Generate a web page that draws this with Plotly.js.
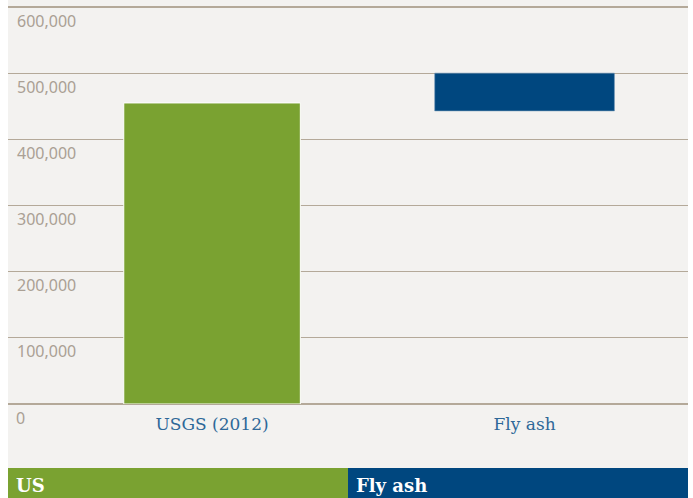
<!DOCTYPE html>
<html>
<head>
<meta charset="utf-8">
<script src="https://cdn.plot.ly/plotly-3.0.1.min.js"></script>
<style>
html,body{margin:0;padding:0;background:#ffffff;}
#chart{width:693px;height:498px;}
</style>
</head>
<body>
<div id="chart"></div>
<script>
// Data
const categories = ["USGS (2012)", "Fly ash"];
const usLow = [0];
const usHigh = [455000];
const flyLow = [443000];
const flyHigh = [500000];
const groupLabels = ["US", "Fly ash"];
const yTickVals = [0, 100000, 200000, 300000, 400000, 500000, 600000];
const yTickText = ["0", "100,000", "200,000", "300,000", "400,000", "500,000", "600,000"];

const green = "#7aa231";
const blue = "#00477f";
const bg = "#f3f2f0";
const grid = "#b4a999";
const tickColor = "#aaa094";

const traces = [
  {
    type: "bar",
    x: [categories[0]],
    base: usLow,
    y: usHigh.map((h, i) => h - usLow[i]),
    width: 0.565,
    marker: {color: green, line: {color: "#ffffff", width: 1}},
    hoverinfo: "skip",
    showlegend: false
  },
  {
    type: "bar",
    x: [categories[1]],
    base: flyLow,
    y: flyHigh.map((h, i) => h - flyLow[i]),
    width: 0.575,
    marker: {color: blue, line: {color: "#6d93b6", width: 0.6}},
    hoverinfo: "skip",
    showlegend: false
  }
];

const H = 404; // plot height px
const layout = {
  width: 693, height: 498,
  margin: {l: 8, r: 5, t: 0, b: 94, pad: 0},
  paper_bgcolor: "#ffffff",
  plot_bgcolor: bg,
  barmode: "overlay",
  showlegend: false,
  xaxis: {
    type: "category",
    categoryarray: categories,
    range: [-0.653, 1.523],
    showgrid: false, zeroline: false, showline: false,
    ticks: "",
    tickfont: {family: "DejaVu Serif", size: 17, color: "#2e6898"},
    ticklabelstandoff: 8,
    fixedrange: true
  },
  yaxis: {
    range: [0, 610579],
    tickvals: yTickVals,
    ticktext: yTickText,
    ticklabelposition: "inside",
    ticklabelshift: 14,
    ticklabelstandoff: 6,
    tickfont: {family: "Noto Sans", size: 16, color: tickColor},
    showgrid: true, gridcolor: grid, gridwidth: 1.3,
    zeroline: true, zerolinecolor: grid, zerolinewidth: 1.3,
    showline: false, ticks: "",
    fixedrange: true
  },
  shapes: [
    {type: "rect", xref: "paper", yref: "paper", x0: 0, x1: 1, y0: -64 / H, y1: 0,
     fillcolor: bg, line: {width: 0}, layer: "below"},
    {type: "rect", xref: "paper", yref: "paper", x0: 0, x1: 0.5, y0: -94 / H, y1: -64 / H,
     fillcolor: green, line: {width: 0}, layer: "below"},
    {type: "rect", xref: "paper", yref: "paper", x0: 0.5, x1: 1, y0: -94 / H, y1: -64 / H,
     fillcolor: blue, line: {width: 0}, layer: "below"}
  ],
  annotations: [
    {xref: "paper", yref: "y", x: 0, y: yTickVals[0], xanchor: "left", yanchor: "middle",
     xshift: 6, yshift: -14, text: yTickText[0], showarrow: false,
     font: {family: "Noto Sans", size: 16, color: tickColor}},
    {xref: "paper", yref: "paper", x: 0, y: -79 / H, xanchor: "left", yanchor: "middle",
     xshift: 6, yshift: -2, text: "<b>" + groupLabels[0] + "</b>", showarrow: false,
     font: {family: "DejaVu Serif", size: 18, color: "#ffffff"}},
    {xref: "paper", yref: "paper", x: 0.5, y: -79 / H, xanchor: "left", yanchor: "middle",
     xshift: 6, yshift: -2, text: "<b>" + groupLabels[1] + "</b>", showarrow: false,
     font: {family: "DejaVu Serif", size: 18, color: "#ffffff"}}
  ]
};

Plotly.newPlot("chart", traces, layout, {displayModeBar: false, staticPlot: true});
</script>
</body>
</html>
